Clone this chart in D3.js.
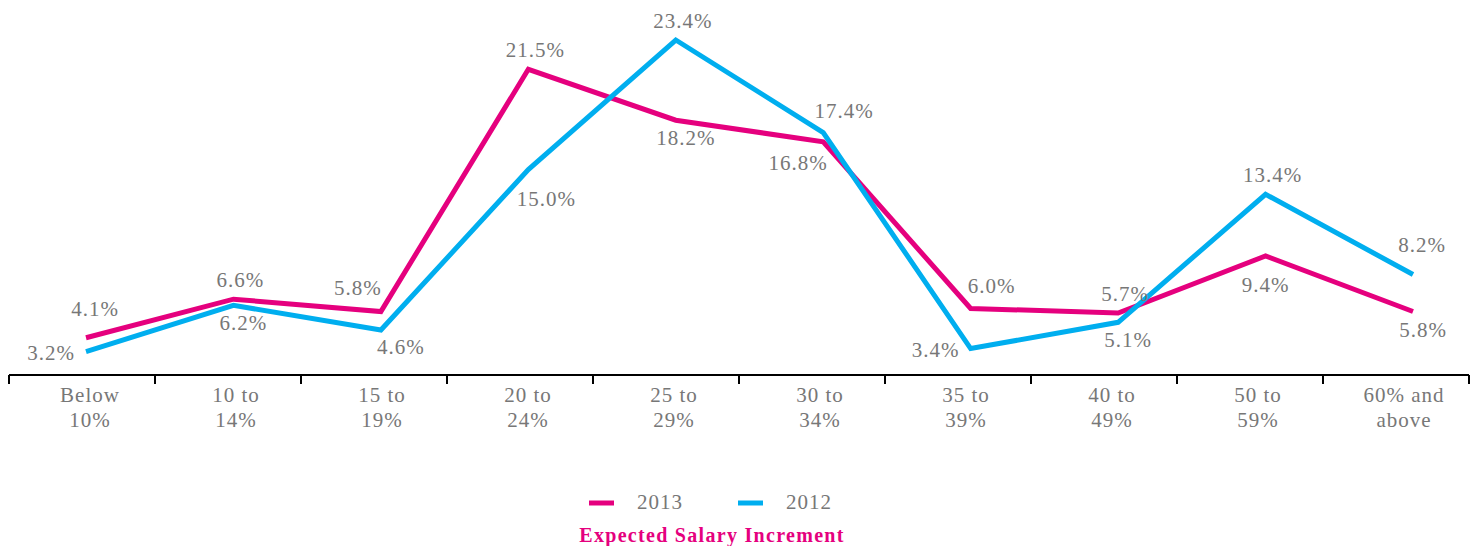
<!DOCTYPE html>
<html>
<head>
  <script src="https://d3js.org/d3.v7.min.js"></script>
  <style>
    body { margin: 0; background: #fff; }
    text { font-family: "Liberation Serif", serif; fill: #777; letter-spacing: 1px; }
  </style>
</head>
<body>
<script>
  // chart data
  var categories = ["Below|10%", "10 to|14%", "15 to|19%", "20 to|24%", "25 to|29%",
                    "30 to|34%", "35 to|39%", "40 to|49%", "50 to|59%", "60% and|above"];
  var values2013 = [4.1, 6.6, 5.8, 21.5, 18.2, 16.8, 6.0, 5.7, 9.4, 5.8];
  var values2012 = [3.2, 6.2, 4.6, 15.0, 23.4, 17.4, 3.4, 5.1, 13.4, 8.2];
  // where each value label sits relative to its point
  var place2013 = ["abovehigh", "above", "aboveleft", "above", "below", "belowleft", "aboveright", "above", "belowfar", "below"];
  var place2012 = ["left", "below", "belowright", "belowrightfar", "above", "aboveright", "left", "below", "above", "abovehigh"];
  var seriesNames = ["2013", "2012"];
  var colors = ["#e5007e", "#00aeef"];

  var width = 1477, height = 546;

  var svg = d3.select("body").append("svg")
    .attr("width", width)
    .attr("height", height);

  var xBand = d3.scaleBand().domain(categories).range([9, 1469]);
  var xPoint = d3.scalePoint().domain(categories).range([86, 1413]);
  var y = d3.scaleLinear().domain([0, 23.4]).range([401, 40]);

  // axis
  var axis = svg.append("g").attr("transform", "translate(0,375)");
  axis.append("line")
    .attr("x1", 9).attr("x2", 1469)
    .attr("stroke", "#000").attr("stroke-width", 2);
  var bounds = categories.map(function(c) { return xBand(c); }).concat([xBand.range()[1]]);
  axis.selectAll(".tick")
    .data(bounds)
    .enter().append("line")
    .attr("x1", function(d) { return d; })
    .attr("x2", function(d) { return d; })
    .attr("y1", 0).attr("y2", 9)
    .attr("stroke", "#000").attr("stroke-width", 2);

  var tl = axis.selectAll(".lab")
    .data(categories)
    .enter().append("text")
    .attr("text-anchor", "middle")
    .style("font-size", "21px")
    .attr("x", function(d) { return xBand(d) + xBand.bandwidth() / 2 + 8; });
  tl.each(function(d) {
    var parts = d.split("|");
    var t = d3.select(this);
    parts.forEach(function(p, i) {
      t.append("tspan")
        .attr("x", t.attr("x"))
        .attr("y", 27 + i * 25)
        .text(p);
    });
  });

  var line = d3.line()
    .x(function(d, i) { return xPoint(categories[i]); })
    .y(function(d) { return y(d); });

  var series = [values2013, values2012];
  var places = [place2013, place2012];

  series.forEach(function(vals, s) {
    svg.append("path")
      .datum(vals)
      .attr("d", line)
      .attr("fill", "none")
      .attr("stroke", colors[s])
      .attr("stroke-width", 5)
      .attr("stroke-linejoin", "miter");
  });

  var offsets = {
    above: [7, -12], abovehigh: [9, -22],
    aboveleft: [-23, -17], aboveright: [21, -15],
    below: [10, 25], belowfar: [0, 36],
    belowleft: [-25, 28], belowright: [20, 24],
    belowrightfar: [18, 36], left: [-35, 8]
  };

  series.forEach(function(vals, s) {
    svg.append("g").selectAll("text")
      .data(vals)
      .enter().append("text")
      .attr("text-anchor", "middle")
      .style("font-size", "21px")
      .attr("x", function(d, i) { return xPoint(categories[i]) + offsets[places[s][i]][0]; })
      .attr("y", function(d, i) { return y(d) + offsets[places[s][i]][1]; })
      .text(function(d) { return d.toFixed(1) + "%"; });
  });

  // legend
  var legend = svg.append("g").attr("transform", "translate(589,503)");
  var lg = legend.selectAll("g")
    .data(seriesNames)
    .enter().append("g")
    .attr("transform", function(d, i) { return "translate(" + (i * 149) + ",0)"; });
  lg.append("line")
    .attr("x1", 0).attr("x2", 25)
    .attr("stroke", function(d, i) { return colors[i]; })
    .attr("stroke-width", 5);
  lg.append("text")
    .attr("x", 48).attr("y", 6)
    .style("font-size", "21px")
    .text(function(d) { return d; });

  svg.append("text")
    .attr("x", 712).attr("y", 542)
    .attr("text-anchor", "middle")
    .style("font-size", "20px")
    .style("font-weight", "bold")
    .style("letter-spacing", "1.3px")
    .style("fill", "#e5007e")
    .text("Expected Salary Increment");
</script>
</body>
</html>
